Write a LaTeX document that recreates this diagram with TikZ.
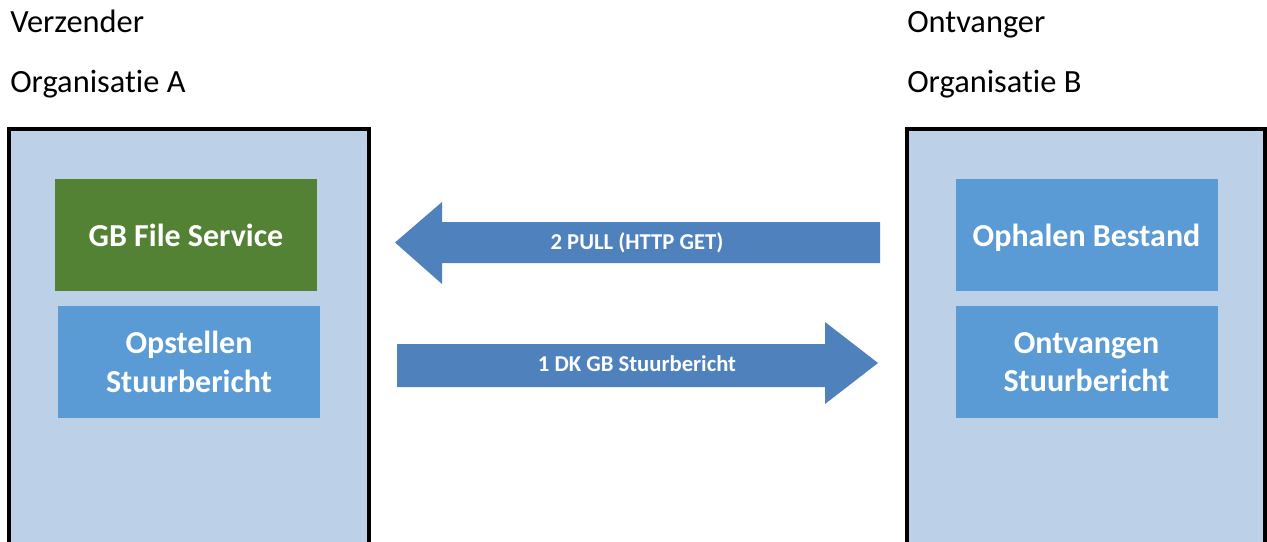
\documentclass[tikz,border=0pt]{standalone}
\usepackage{fontspec}
\setmainfont{Carlito}[Ligatures=NoCommon]
\definecolor{orgbg}{HTML}{BCD0E8}
\definecolor{boxblue}{HTML}{5B9BD5}
\definecolor{boxgreen}{HTML}{548235}
\definecolor{arrowblue}{HTML}{4F81BD}
\begin{document}
\begin{tikzpicture}[x=0.75pt,y=-0.75pt,
  orgbox/.style={draw=black, line width=3pt, fill=orgbg},
  header/.style={anchor=base west, inner sep=0pt, font=\fontsize{24.3}{29}\selectfont},
  svcbox/.style={inner sep=0pt, outer sep=0pt, minimum width=196.5pt, minimum height=84pt,
    align=center, text=white, font=\fontsize{24}{29}\selectfont\bfseries},
  flowarrow/.style={fill=arrowblue, draw=none},
  flowlabel/.style={inner sep=0pt, text=white, font=\fontsize{17}{20}\selectfont\bfseries}]
\useasboundingbox (0,0) rectangle (1267,542);
\clip (0,0) rectangle (1267,542);
\fill[white] (0,0) rectangle (1267,542);

% headers
\node[header] (verz) at (10,33) {Verzender};
\node[header] (orgA) at (10,93) {Organisatie A};
\node[header] (ontv) at (907,33) {Ontvanger};
\node[header] (orgB) at (907,93) {Organisatie B};

% organisation boxes
\draw[orgbox] (9,129) rectangle (369,600);
\draw[orgbox] (907,129) rectangle (1265,600);

% service boxes
\node[svcbox, fill=boxgreen] (gbfs) at (186,235) {GB File Service};
\node[svcbox, fill=boxblue] (opst) at (189,362) {Opstellen\\Stuurbericht};
\node[svcbox, fill=boxblue, text depth=0pt] (ophb) at (1086.5,235) {Ophalen Bestand};
\node[svcbox, fill=boxblue] (ontsb) at (1086.5,362) {Ontvangen\\Stuurbericht};

% block arrows
\fill[flowarrow] (880,222) -- (442,222) -- (442,202) -- (395,242.5) -- (442,284) -- (442,263) -- (880,263) -- cycle;
\node[flowlabel] (pull) at (637,243) {2 PULL (HTTP GET)};
\fill[flowarrow] (397,344) -- (825,344) -- (825,322) -- (878,363) -- (825,404) -- (825,387) -- (397,387) -- cycle;
\node[flowlabel] (dk) at (637,364) {1 DK GB Stuurbericht};
\end{tikzpicture}
\end{document}
